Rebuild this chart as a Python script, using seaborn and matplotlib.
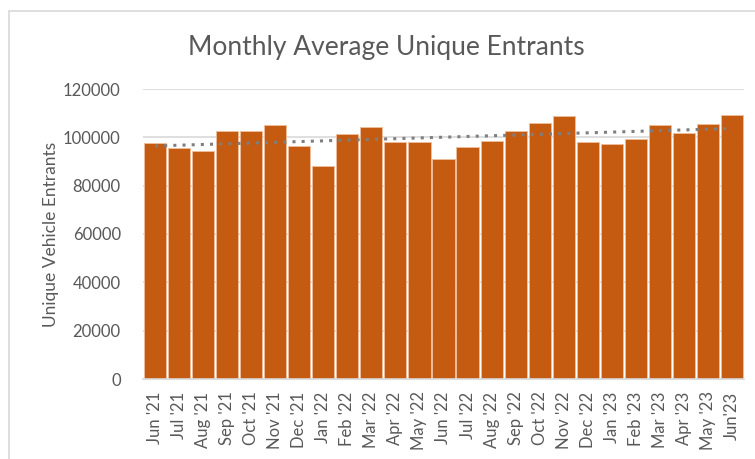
import numpy as np
import pandas as pd
import seaborn as sns
import matplotlib
matplotlib.use("Agg")
import matplotlib.pyplot as plt
from matplotlib.patches import Rectangle

months = ["Jun '21", "Jul '21", "Aug '21", "Sep '21", "Oct '21", "Nov '21", "Dec '21",
          "Jan '22", "Feb '22", "Mar '22", "Apr '22", "May '22", "Jun '22", "Jul '22",
          "Aug '22", "Sep '22", "Oct '22", "Nov '22", "Dec '22", "Jan '23", "Feb '23",
          "Mar '23", "Apr '23", "May '23", "Jun'23"]
entrants = [97500, 95500, 94200, 102500, 102500, 105000, 96300,
            88300, 101400, 104100, 97900, 97900, 91200, 95900,
            98300, 102500, 105800, 108800, 97900, 97100, 99200,
            105100, 101800, 105500, 109200]
y_ticks = [0, 20000, 40000, 60000, 80000, 100000, 120000]

df = pd.DataFrame({"month": months, "entrants": entrants})

sns.set_theme(style="white")
plt.rcParams["font.family"] = ["Lato", "DejaVu Sans"]

text_color = "#595959"
bar_color = "#C55A11"

fig = plt.figure(figsize=(7.55, 4.59), dpi=100)
ax = fig.add_axes([143 / 755, 1 - 379 / 459, (744 - 143) / 755, (379 - 89) / 459])

sns.barplot(data=df, x="month", y="entrants", color=bar_color, saturation=1,
            width=0.92, edgecolor="#EDBE9E", linewidth=0.6, ax=ax, zorder=2)

# linear trend line
xs = np.arange(len(entrants))
slope, intercept = np.polyfit(xs, entrants, 1)
ax.plot(xs, slope * xs + intercept, linestyle=(0, (1, 2)), color="#7F7F7F",
        linewidth=2.2, zorder=3)

ax.set_xlim(-0.5, len(months) - 0.5)
ax.set_ylim(0, 120000)
ax.set_yticks(y_ticks)
ax.set_yticklabels([str(t) for t in y_ticks])
ax.yaxis.grid(True, color="#D9D9D9", linewidth=1.2, zorder=0)
ax.set_axisbelow(True)

for side in ["top", "right", "left"]:
    ax.spines[side].set_visible(False)
ax.spines["bottom"].set_color("#D9D9D9")
ax.spines["bottom"].set_linewidth(1.2)

ax.tick_params(axis="y", length=0, pad=16, labelsize=12, labelcolor=text_color)
ax.tick_params(axis="x", length=0, pad=9, labelsize=12, labelcolor=text_color,
               labelrotation=90)

ax.set_xlabel("")
ax.set_ylabel("Unique Vehicle Entrants", fontsize=12.5, color=text_color, labelpad=3)
fig.text(386 / 755, 1 - 47 / 459, "Monthly Average Unique Entrants", ha="center",
         va="center", fontsize=19, color=text_color)

# chart frame
fig.patches.append(Rectangle((9 / 755, -0.05), 1.2, 1 - 11 / 459 + 0.05,
                             transform=fig.transFigure, fill=False,
                             edgecolor="#D9D9D9", linewidth=1.2))

fig.savefig("out.png", dpi=100)
